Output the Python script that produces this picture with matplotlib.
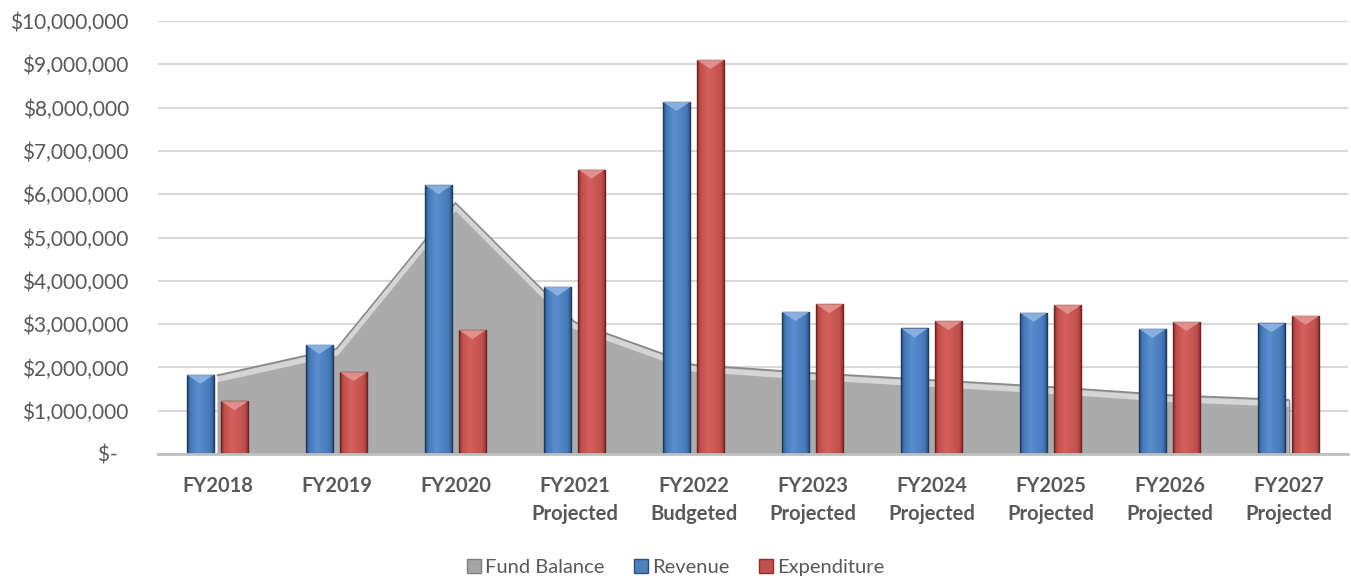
import matplotlib
matplotlib.use("Agg")
import matplotlib.pyplot as plt
import numpy as np
from matplotlib.patches import Rectangle, Polygon, Patch
from matplotlib.colors import LinearSegmentedColormap
import matplotlib.patheffects as pe
from matplotlib.ticker import FuncFormatter, MultipleLocator

categories = ["FY2018", "FY2019", "FY2020", "FY2021\nProjected", "FY2022\nBudgeted",
              "FY2023\nProjected", "FY2024\nProjected", "FY2025\nProjected",
              "FY2026\nProjected", "FY2027\nProjected"]
fund_balance = [1820000, 2430000, 5800000, 3050000, 2060000, 1870000, 1710000, 1550000, 1360000, 1250000]
revenue = [1830000, 2520000, 6210000, 3860000, 8130000, 3280000, 2900000, 3260000, 2890000, 3020000]
expenditure = [1220000, 1890000, 2860000, 6570000, 9100000, 3460000, 3070000, 3440000, 3050000, 3190000]

plt.rcParams['font.family'] = ['Lato', 'DejaVu Sans']
TXT = '#595959'

fig = plt.figure(figsize=(13.51, 5.80), dpi=100)
ax = fig.add_axes([158/1351, 1-454/580, 1190/1351, 433/580])
ax.set_xlim(-0.5, len(categories) - 0.5)
ax.set_ylim(0, 10000000)

x = np.arange(len(categories))

# gridlines
ax.yaxis.set_major_locator(MultipleLocator(1000000))
ax.grid(axis='y', color='#D9D9D9', linewidth=1.5, zorder=0)
ax.set_axisbelow(True)
for s in ['top', 'right', 'left']:
    ax.spines[s].set_visible(False)
ax.spines['bottom'].set_color('#BFBFBF')
ax.spines['bottom'].set_linewidth(2)
ax.spines['bottom'].set_zorder(6)

# Fund balance area
poly = ax.fill_between(x, fund_balance, 0, color='#ABABAB', linewidth=0, zorder=1)
poly.set_path_effects([pe.SimplePatchShadow(offset=(2, -2), alpha=0.25, shadow_rgbFace='#808080'), pe.Normal()])
ax.plot(x, fund_balance, color='white', linewidth=4, alpha=0.55, zorder=1.5, solid_joinstyle='round',
        path_effects=[pe.Stroke(offset=(0, -3), linewidth=4, foreground='white', alpha=0.5)])
ax.plot(x, fund_balance, color='#8A8A8A', linewidth=1.2, zorder=1.6)
ax.plot([x[-1], x[-1]], [0, fund_balance[-1]], color='#8A8A8A', linewidth=1.0, zorder=1.6)

# bars
width = 0.228
offset = 0.143
fig.canvas.draw()
px_per_unit = ax.get_window_extent().height / 10000000.0
bevel = 9 / px_per_unit

def make_cmap(dark, mid, light):
    return LinearSegmentedColormap.from_list('g', [(0, dark), (0.12, mid), (0.4, light), (0.85, mid), (1, dark)])

specs = [
    (revenue, -offset, make_cmap('#2C4F7C', '#4679B8', '#5B8ED0'), '#1F3B60', '#8FB4E3'),
    (expenditure, offset, make_cmap('#8C2F2C', '#C0504D', '#D5605C'), '#6E2422', '#E39593'),
]
grad = np.linspace(0, 1, 64).reshape(1, -1)
for vals, off, cmap, edge, topc in specs:
    for xi, v in zip(x, vals):
        x0 = xi + off - width / 2
        x1 = xi + off + width / 2
        rect = Rectangle((x0, 0), width, v, facecolor='none', edgecolor=edge, linewidth=1.0, zorder=4)
        ax.add_patch(rect)
        im = ax.imshow(grad, extent=[x0, x1, 0, v], aspect='auto', cmap=cmap, zorder=3.5,
                       interpolation='bilinear')
        im.set_clip_path(rect)
        xc = (x0 + x1) / 2
        tri = Polygon([(x0, v), (x1, v), (xc, v - bevel)], closed=True, facecolor=topc,
                      edgecolor='none', alpha=0.9, zorder=4.2)
        ax.add_patch(tri)

ax.set_xlim(-0.5, len(categories) - 0.5)
ax.set_ylim(0, 10000000)

def fmt(v, pos):
    if v == 0:
        return '$-  '
    return '${:,.0f}'.format(v)
ax.yaxis.set_major_formatter(FuncFormatter(fmt))
ax.tick_params(axis='y', length=0, pad=21, labelsize=15, labelcolor=TXT)
ax.set_xticks(x)
ax.set_xticklabels(categories, fontweight='bold', linespacing=1.5)
ax.tick_params(axis='x', length=0, pad=16, labelsize=14.5, labelcolor=TXT)

handles = [Patch(facecolor='#A5A5A5', edgecolor='#7F7F7F', label='Fund Balance'),
           Patch(facecolor='#4F81BD', edgecolor='#2C4F7C', label='Revenue'),
           Patch(facecolor='#C0504D', edgecolor='#8C2F2C', label='Expenditure')]
fig.legend(handles=handles, loc='center', bbox_to_anchor=(0.5, 0.022), ncol=3, frameon=False,
           fontsize=14.5, labelcolor=TXT, handlelength=0.72, handleheight=0.72,
           handletextpad=0.2, columnspacing=1.45)

fig.savefig('out.png', dpi=100)
